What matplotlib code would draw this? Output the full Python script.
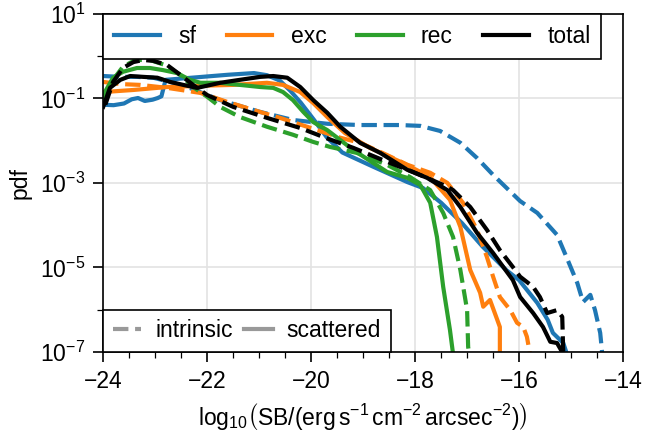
import numpy as np
import matplotlib
matplotlib.use('Agg')
import matplotlib.pyplot as plt
from matplotlib.lines import Line2D
from matplotlib.ticker import AutoMinorLocator, FixedLocator, NullFormatter

plt.rcParams['font.family'] = ['Liberation Sans', 'DejaVu Sans']
plt.rcParams['mathtext.fontset'] = 'custom'
plt.rcParams['mathtext.rm'] = 'Liberation Sans'
plt.rcParams['mathtext.it'] = 'Liberation Sans:italic'
plt.rcParams['mathtext.bf'] = 'Liberation Sans:bold'

# log10(SB) values and log10(pdf) values
sf_int_x = [-24.0, -23.67, -23.35, -23.04, -22.71, -22.38, -21.75, -20.98, -20.35, -19.69,
            -19.06, -18.29, -17.90, -17.52, -17.13, -16.81, -16.50, -15.98, -15.65, -15.27,
            -15.08, -14.88, -14.77, -14.63, -14.54, -14.44, -14.40]
sf_int_logp = [-0.47, -0.49, -0.49, -0.51, -0.61, -0.73, -1.04, -1.32, -1.51, -1.60,
               -1.63, -1.63, -1.65, -1.77, -2.05, -2.41, -2.81, -3.43, -3.71, -4.23,
               -4.78, -5.37, -5.82, -5.65, -6.01, -6.55, -7.05]

sf_sca_x = [-24.0, -23.8, -23.6, -23.45, -23.33, -23.2, -23.05, -22.95, -22.88, -22.8,
            -22.6, -22.2, -21.6, -21.1, -20.85, -20.6, -20.4, -20.2, -19.95, -19.7,
            -19.4, -18.8, -18.15, -17.85, -17.5, -17.1, -16.7, -16.25, -16.0, -15.65,
            -15.45, -15.35, -15.15, -15.08]
sf_sca_logp = [-1.15, -1.16, -1.12, -1.02, -0.99, -1.06, -1.03, -0.99, -0.95, -0.56,
               -0.54, -0.50, -0.44, -0.40, -0.45, -0.58, -0.82, -1.10, -1.50, -1.92,
               -2.28, -2.62, -2.98, -3.12, -3.47, -3.95, -4.51, -5.06, -5.30, -5.84,
               -6.24, -6.55, -6.79, -7.05]

exc_int_x = [-24.0, -23.67, -23.29, -22.77, -22.13, -21.62, -21.12, -20.60, -20.08, -19.44,
             -19.06, -18.54, -18.15, -17.71, -17.38, -17.08, -16.81, -16.62, -16.50, -16.37,
             -16.17, -16.04, -15.92, -15.85, -15.79]
exc_int_logp = [-0.61, -0.66, -0.68, -0.75, -0.87, -1.08, -1.27, -1.46, -1.67, -1.93,
                -2.05, -2.34, -2.57, -2.76, -3.00, -3.47, -4.11, -4.75, -5.22, -5.70,
                -6.01, -6.31, -6.41, -6.64, -7.05]

exc_sca_x = [-24.0, -23.42, -22.77, -22.13, -21.50, -20.85, -20.54, -20.21, -19.96, -19.69,
             -19.35, -18.87, -18.23, -17.71, -17.58, -17.33, -17.13, -16.94, -16.75, -16.69,
             -16.56, -16.42, -16.37, -16.37]
exc_sca_logp = [-0.85, -0.80, -0.73, -0.70, -0.68, -0.63, -0.68, -0.85, -1.11, -1.44,
                -1.82, -2.17, -2.53, -2.86, -3.05, -3.40, -4.04, -5.06, -5.60, -5.93,
                -5.77, -6.24, -6.41, -7.05]

rec_int_x = [-24.0, -23.81, -23.62, -23.38, -23.10, -22.81, -22.52, -22.27, -22.0, -21.75,
             -21.37, -20.85, -20.35, -19.96, -19.63, -19.12, -18.54, -18.10, -17.71, -17.46,
             -17.27, -17.13, -17.0, -16.98, -16.96]
rec_int_logp = [-1.04, -0.56, -0.25, -0.09, -0.09, -0.21, -0.44, -0.73, -0.96, -1.20,
                -1.44, -1.67, -1.86, -2.03, -2.15, -2.29, -2.57, -2.86, -3.17, -3.71,
                -4.28, -5.06, -6.01, -6.88, -7.05]

rec_sca_x = [-24.0, -23.81, -23.62, -23.35, -23.10, -22.85, -22.58, -22.33, -22.13, -21.75,
             -21.37, -20.98, -20.73, -20.54, -20.35, -20.15, -19.96, -19.69, -19.19, -18.54,
             -18.15, -17.90, -17.71, -17.58, -17.46, -17.33, -17.27]
rec_sca_logp = [-0.92, -0.51, -0.37, -0.28, -0.28, -0.33, -0.40, -0.56, -0.63, -0.63,
                -0.68, -0.73, -0.75, -0.85, -1.04, -1.32, -1.56, -1.75, -2.22, -2.74,
                -2.88, -3.05, -3.47, -4.28, -5.46, -6.48, -7.05]

tot_int_x = [-23.96, -23.81, -23.62, -23.42, -23.23, -23.04, -22.77, -22.52, -22.27, -22.00,
             -21.50, -20.85, -20.21, -19.73, -19.19, -18.54, -18.04, -17.38, -17.27, -16.94,
             -16.62, -16.37, -16.12, -15.98, -15.73, -15.60, -15.46, -15.27, -15.17, -15.15]
tot_int_logp = [-1.15, -0.61, -0.28, -0.14, -0.09, -0.11, -0.21, -0.44, -0.68, -0.92,
                -1.20, -1.46, -1.70, -1.93, -2.17, -2.50, -2.74, -3.09, -3.17, -3.57,
                -4.11, -4.59, -4.99, -5.22, -5.46, -5.70, -6.08, -6.01, -6.17, -7.05]

tot_sca_x = [-24.0, -23.87, -23.67, -23.48, -23.23, -22.96, -22.71, -22.46, -22.19, -21.75,
             -21.37, -20.98, -20.73, -20.46, -20.21, -19.96, -19.69, -19.44, -19.06, -18.67,
             -18.15, -17.77, -17.38, -17.13, -16.81, -16.50, -16.12, -15.98, -15.73, -15.54,
             -15.40, -15.27, -15.15]
tot_sca_logp = [-1.20, -0.75, -0.56, -0.47, -0.49, -0.51, -0.61, -0.68, -0.75, -0.63,
                -0.56, -0.49, -0.47, -0.51, -0.73, -1.04, -1.34, -1.67, -2.05, -2.29,
                -2.69, -2.88, -3.17, -3.57, -4.18, -4.66, -5.30, -5.70, -6.08, -6.41,
                -6.76, -6.79, -7.05]

labels = ['sf', 'exc', 'rec', 'total']
colors = ['tab:blue', 'tab:orange', 'tab:green', 'k']
curves = [
    (sf_int_x, sf_int_logp, sf_sca_x, sf_sca_logp),
    (exc_int_x, exc_int_logp, exc_sca_x, exc_sca_logp),
    (rec_int_x, rec_int_logp, rec_sca_x, rec_sca_logp),
    (tot_int_x, tot_int_logp, tot_sca_x, tot_sca_logp),
]

fig, ax = plt.subplots(figsize=(4.3, 2.9), dpi=150)
fig.subplots_adjust(left=0.16, right=0.966, top=0.968, bottom=0.191)

handles = []
for (xi, yi, xs, ys), lab, c in zip(curves, labels, colors):
    ax.plot(xi, 10.0 ** np.array(yi), color=c, ls='--', lw=2)
    h, = ax.plot(xs, 10.0 ** np.array(ys), color=c, ls='-', lw=2, label=lab)
    handles.append(h)

ax.set_yscale('log')
ax.set_xlim(-24, -14)
ax.set_ylim(1e-7, 10)
ax.set_yticks([1e1, 1e-1, 1e-3, 1e-5, 1e-7])
ax.yaxis.set_minor_locator(FixedLocator([1e0, 1e-6]))
ax.yaxis.set_minor_formatter(NullFormatter())
ax.set_xticks([-24, -22, -20, -18, -16, -14])
ax.xaxis.set_minor_locator(AutoMinorLocator(4))
ax.tick_params(which='major', length=5, labelsize=11)
ax.tick_params(which='minor', length=3)
ax.grid(True, which='major', color='#e3e3e3', lw=0.8)
ax.set_axisbelow(True)

ax.set_xlabel(r'$\log_{10}\!\left(\mathrm{SB}/(\mathrm{erg\,s^{-1}\,cm^{-2}\,arcsec^{-2}})\right)$',
              fontsize=11)
ax.set_ylabel('pdf', fontsize=11)

leg1 = ax.legend(handles=handles, loc='upper left', ncol=4, fontsize=11,
                 borderaxespad=0, fancybox=False, edgecolor='k', framealpha=1,
                 borderpad=0.48, columnspacing=1.32)
leg1.get_frame().set_linewidth(0.8)
ax.add_artist(leg1)

style_handles = [Line2D([], [], color='0.6', ls='--', lw=2, label='intrinsic'),
                 Line2D([], [], color='0.6', ls='-', lw=2, label='scattered')]
leg2 = ax.legend(handles=style_handles, loc='lower left', ncol=2, fontsize=11,
                 borderaxespad=0, fancybox=False, edgecolor='k', framealpha=1,
                 borderpad=0.42, handlelength=1.25, handletextpad=0.6, columnspacing=0.5)
leg2.get_frame().set_linewidth(0.8)

plt.savefig('out.png', dpi=150)
